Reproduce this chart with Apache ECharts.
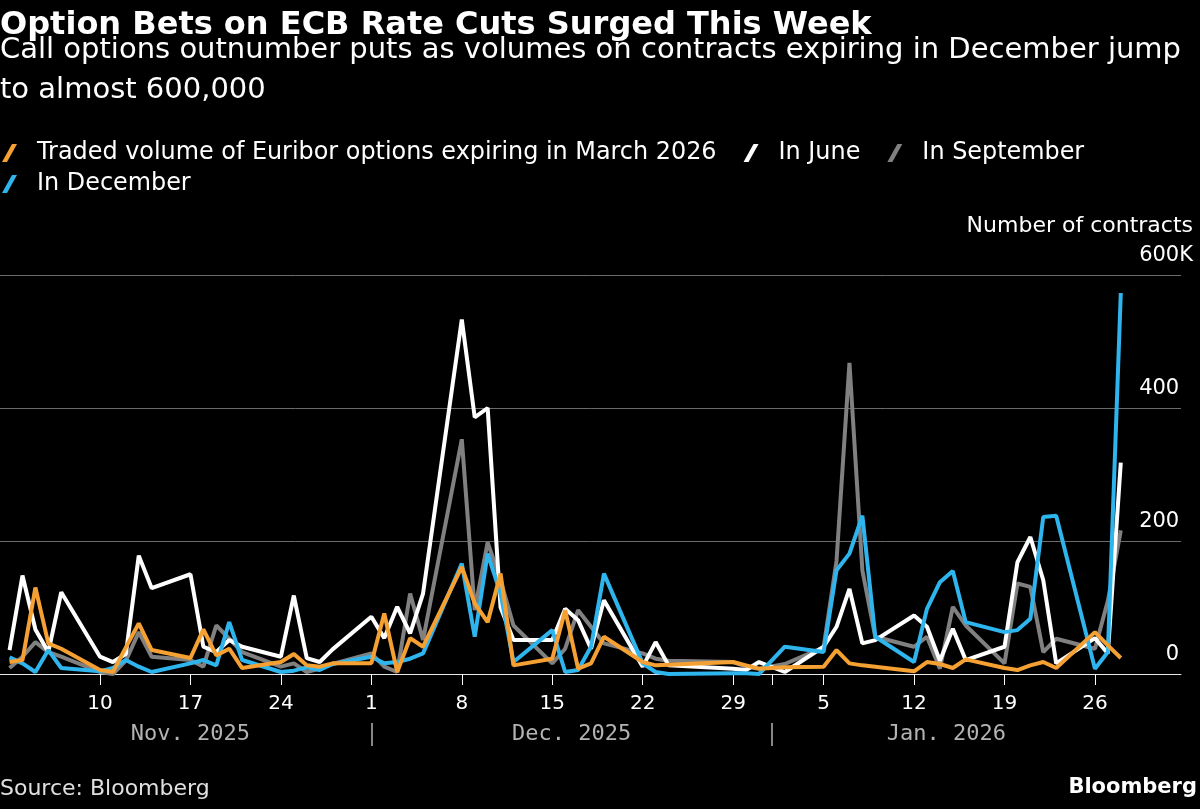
<!DOCTYPE html>
<html>
<head>
<meta charset="utf-8">
<script src="https://cdn.jsdelivr.net/npm/echarts@6/dist/echarts.min.js"></script>
<style>
  html, body { margin: 0; padding: 0; background: #000; }
  #chart { width: 1200px; height: 809px; }
</style>
</head>
<body>
<div id="chart"></div>
<script>
// trading days (ICE holidays Dec 25, Dec 26, Jan 1 left out)
const dates = [
    '2025-11-03', '2025-11-04', '2025-11-05', '2025-11-06', '2025-11-07',
    '2025-11-10', '2025-11-11', '2025-11-12', '2025-11-13', '2025-11-14',
    '2025-11-17', '2025-11-18', '2025-11-19', '2025-11-20', '2025-11-21',
    '2025-11-24', '2025-11-25', '2025-11-26', '2025-11-27', '2025-11-28',
    '2025-12-01', '2025-12-02', '2025-12-03', '2025-12-04', '2025-12-05',
    '2025-12-08', '2025-12-09', '2025-12-10', '2025-12-11', '2025-12-12',
    '2025-12-15', '2025-12-16', '2025-12-17', '2025-12-18', '2025-12-19',
    '2025-12-22', '2025-12-23', '2025-12-24',
    '2025-12-29', '2025-12-30', '2025-12-31', '2026-01-02',
    '2026-01-05', '2026-01-06', '2026-01-07', '2026-01-08', '2026-01-09',
    '2026-01-12', '2026-01-13', '2026-01-14', '2026-01-15', '2026-01-16',
    '2026-01-19', '2026-01-20', '2026-01-21', '2026-01-22', '2026-01-23',
    '2026-01-26', '2026-01-27', '2026-01-28'
];

// volumes in thousands of contracts
const march = [
    18, 21, 130, 46, 38, 6, 3, 40, 76, 36, 24, 67, 28, 38, 9, 18, 30, 13, 11, 16,
    16, 91, 3, 54, 41, 161, 106, 78, 151, 13, 23, 96, 8, 16, 56, 18, 13, 14, 18, 13, 8,
    10, 11, 36, 16, 13, 11, 4, 18, 15, 9, 22, 9, 6, 13, 18, 9, 63, 43, 24
];
const june = [
    36, 148, 67, 33, 123, 26, 18, 30, 178, 129, 150, 41, 33, 51, 41, 26, 118, 24, 18, 37,
    86, 54, 101, 61, 121, 533, 386, 400, 100, 51, 51, 98, 81, 38, 111, 11, 48, 13, 8, 6, 18,
    3, 41, 71, 128, 46, 51, 88, 71, 20, 68, 21, 41, 168, 206, 141, 16, 54, 31, 318
];
const september = [
    9, 26, 48, 33, 26, 3, 0, 20, 63, 26, 21, 11, 73, 53, 33, 11, 16, 3, 8, 15,
    31, 11, 3, 121, 51, 353, 96, 198, 141, 73, 16, 38, 96, 71, 46, 31, 23, 20, 18, 11, 8,
    15, 40, 170, 468, 156, 56, 41, 56, 8, 101, 73, 16, 136, 131, 33, 53, 38, 110, 216
];
const december = [
    25, 16, 3, 36, 9, 4, 9, 21, 11, 3, 16, 21, 13, 78, 21, 3, 5, 10, 6, 15,
    26, 16, 18, 23, 31, 166, 56, 181, 121, 18, 66, 3, 6, 41, 151, 16, 3, 0, 1, 1, 0,
    41, 33, 156, 181, 238, 56, 18, 98, 138, 155, 78, 63, 66, 83, 236, 238, 8, 33, 573
];

const seriesNames = [
    'Traded volume of Euribor options expiring in March 2026',
    'In June',
    'In September',
    'In December'
];

const weekTicks = [
    '2025-11-10', '2025-11-17', '2025-11-24', '2025-12-01', '2025-12-08', '2025-12-15',
    '2025-12-22', '2025-12-29', '2026-01-05', '2026-01-12', '2026-01-19', '2026-01-26'
];
const monthStarts = ['2025-12-01', '2026-01-01'];
const monthLabels = ['Nov. 2025', 'Dec. 2025', 'Jan. 2026'];
const monthLabelAt = ['2025-11-17 00', '2025-12-16 12', '2026-01-14 12'];
const yTicks = [0, 200, 400, 600];

function toTime(s) {
    const p = s.split(/[- ]/).map(Number);
    return new Date(p[0], p[1] - 1, p[2], p[3] || 0).getTime();
}

const FONT = 'DejaVu Sans';
const xMin = new Date(2025, 10, 2, 6, 15).getTime();
const xMax = new Date(2026, 1, 1, 15, 50).getTime();

const monthLabelTimes = monthLabelAt.map(toTime);

function lineSeries(name, values, color, z) {
    return {
        name: name,
        type: 'line',
        xAxisIndex: 0,
        showSymbol: false,
        symbol: 'none',
        z: z,
        color: color,
        lineStyle: {color: color, width: 4},
        data: dates.map((d, i) => [toTime(d), values[i]])
    };
}

const chart = echarts.init(document.getElementById('chart'), null, {renderer: 'canvas'});

const legendCommon = {
    left: 2,
    padding: 0,
    orient: 'horizontal',
    icon: 'path://M10,0 L15,0 L5,18 L0,18 Z',
    itemWidth: 15,
    itemHeight: 18,
    itemGap: 27,
    selectedMode: false,
    textStyle: {color: '#fff', fontSize: 23.9, fontFamily: FONT, lineHeight: 26, padding: [0, 0, 0, 15]}
};

const option = {
    backgroundColor: '#000',
    animation: false,
    title: [
        {
            text: 'Option Bets on ECB Rate Cuts Surged This Week',
            left: 0, top: 5, padding: 0,
            textStyle: {color: '#fff', fontSize: 32, fontWeight: 'bold', fontFamily: FONT, lineHeight: 42}
        },
        {
            text: 'Call options outnumber puts as volumes on contracts expiring in December jump\nto almost 600,000',
            left: 0, top: 30, padding: 0,
            textStyle: {color: '#fff', fontSize: 29, fontWeight: 'normal', fontFamily: FONT, lineHeight: 40}
        }
    ],
    legend: [
        Object.assign({}, legendCommon, {top: 140, data: seriesNames.slice(0, 3)}),
        Object.assign({}, legendCommon, {top: 171, data: seriesNames.slice(3)})
    ],
    grid: {left: 0, right: 19, top: 275, bottom: 135, containLabel: false, outerBoundsMode: 'none'},
    xAxis: [
        {
            type: 'value',
            min: xMin,
            max: xMax,
            position: 'bottom',
            axisLine: {show: true, onZero: false, lineStyle: {color: '#e6e6e6', width: 1}},
            axisTick: {show: true, customValues: weekTicks.concat(['2026-01-01']).map(toTime), length: 11,
                lineStyle: {color: '#fff', width: 1}},
            axisLabel: {
                customValues: weekTicks.map(toTime),
                formatter: v => String(new Date(v).getDate()),
                color: '#fff', fontSize: 20, fontFamily: FONT, margin: 20
            },
            splitLine: {show: false}
        },
        {
            type: 'value',
            min: xMin,
            max: xMax,
            position: 'bottom',
            offset: 49,
            axisLine: {show: false, onZero: false},
            axisTick: {show: true, customValues: monthStarts.map(toTime), length: 23,
                lineStyle: {color: '#b3b3b3', width: 1.5}},
            axisLabel: {
                customValues: monthLabelTimes,
                formatter: v => monthLabels[monthLabelTimes.indexOf(v)] || '',
                color: '#b3b3b3', fontSize: 22, fontFamily: 'DejaVu Sans Mono', margin: 0
            },
            splitLine: {show: false}
        }
    ],
    yAxis: {
        type: 'value',
        min: 0,
        max: 600,
        interval: 200,
        position: 'right',
        axisLine: {show: false},
        axisTick: {show: false},
        splitLine: {show: true, lineStyle: {color: '#6b6b6b', width: 1}},
        axisLabel: {
            inside: true,
            margin: -12,
            showMinLabel: true,
            showMaxLabel: true,
            align: 'right',
            verticalAlign: 'bottom',
            padding: [0, 0, 9, 0],
            color: '#fff',
            fontSize: 21,
            lineHeight: 21,
            fontFamily: FONT,
            // unit suffix only on the top label; the others keep an invisible one so digits line up
            formatter: v => (v === yTicks[yTicks.length - 1] ? v + 'K' : v + '{h|K}'),
            rich: {h: {color: 'rgba(0,0,0,0)', fontSize: 21, lineHeight: 21, fontFamily: FONT}}
        }
    },
    series: [
        lineSeries(seriesNames[2], september, '#808080', 2),
        lineSeries(seriesNames[1], june, '#ffffff', 3),
        lineSeries(seriesNames[3], december, '#2fb5ee', 4),
        lineSeries(seriesNames[0], march, '#f5a032', 5)
    ],
    graphic: [
        {
            type: 'text', x: 1193, y: 226,
            style: {text: 'Number of contracts', align: 'right', verticalAlign: 'middle',
                fill: '#fff', font: '22px "DejaVu Sans"'}
        },
        {
            type: 'text', x: 0, y: 789,
            style: {text: 'Source: Bloomberg', align: 'left', verticalAlign: 'middle',
                fill: '#e0e0e0', font: '22px "DejaVu Sans"'}
        },
        {
            type: 'text', x: 1197, y: 788,
            style: {text: 'Bloomberg', align: 'right', verticalAlign: 'middle',
                fill: '#fff', font: 'bold 21px "DejaVu Sans"'}
        }
    ]
};

chart.setOption(option);
</script>
</body>
</html>
